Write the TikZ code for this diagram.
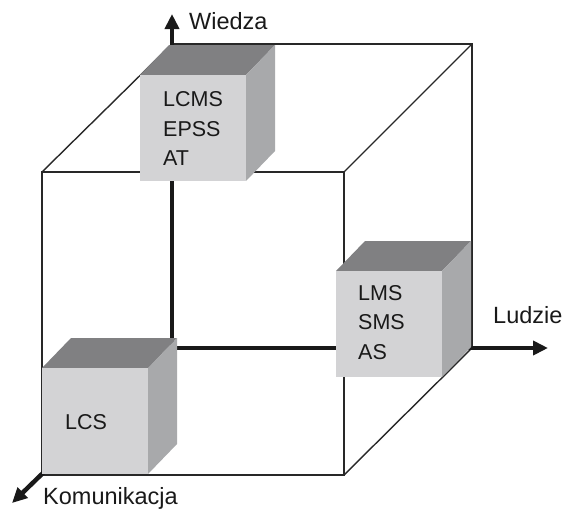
\documentclass[tikz,border=0pt]{standalone}
\usepackage{fontspec}
\setmainfont{Liberation Sans}
\usetikzlibrary{arrows.meta}
\definecolor{edgecol}{RGB}{40,40,40}
\definecolor{axiscol}{RGB}{25,25,25}
\definecolor{facefront}{RGB}{211,211,213}
\definecolor{facetop}{RGB}{128,128,130}
\definecolor{faceside}{RGB}{168,169,171}
\tikzset{
  edge/.style={draw=edgecol, line width=1.4pt},
  axis/.style={draw=axiscol, line width=4.5pt, -{Triangle[length=15pt,width=14pt]}},
  axislabel/.style={anchor=base west, font=\fontsize{23.5}{27}\selectfont, text=black!90, inner sep=0pt},
  cubetext/.style={anchor=base west, font=\fontsize{21.5}{25}\selectfont, text=black!90, inner sep=0pt},
  pics/solidcube/.style={code={
    \fill[facetop] (0,0) -- (29,-30) -- (135,-30) -- (106,0) -- cycle;
    \fill[faceside] (106,0) -- (135,-30) -- (135,76) -- (106,106) -- cycle;
    \fill[facefront] (0,0) rectangle (106,106);
  }}
}
\begin{document}
\begin{tikzpicture}[x=1pt, y=-1pt]
  \useasboundingbox (0,0) rectangle (565,509);

  % corners of the large frame cube
  \coordinate (o)  at (172,348);
  \coordinate (bt) at (172,44);
  \coordinate (btr) at (472,44);
  \coordinate (bbr) at (472,348);
  \coordinate (ftl) at (42,172);
  \coordinate (ftr) at (344,172);
  \coordinate (fbl) at (42,475);
  \coordinate (fbr) at (344,475);
  % arrow ends of the axes
  \coordinate (wtip) at (172,14);
  \coordinate (ltip) at (548,348);
  \coordinate (ktip) at (12,503);

  % frame edges
  \draw[edge] (bt) -- (btr) -- (bbr);
  \draw[edge] (bt) -- (ftl);
  \draw[edge] (btr) -- (ftr);
  \draw[edge] (bbr) -- (fbr);
  \draw[edge] (ftl) rectangle (fbr);

  % axes
  \draw[axis] (o) -- (wtip);
  \draw[axis] (o) -- (ltip);
  \draw[axis] (o) -- (ktip);

  % axis labels
  \node[axislabel] (wiedza) at (189,29) {Wiedza};
  \node[axislabel] (ludzie) at (493,323) {Ludzie};
  \node[axislabel] (komunikacja) at (43,504) {Komunikacja};

  % solid cubes
  \pic at (140,75) {solidcube};
  \node[cubetext] (lcms) at (163,106) {LCMS};
  \node[cubetext] (epss) at (163,136) {EPSS};
  \node[cubetext] (at)   at (163,165) {AT};

  \pic at (336,271) {solidcube};
  \node[cubetext] (lms) at (358,300) {LMS};
  \node[cubetext] (sms) at (358,329) {SMS};
  \node[cubetext] (as)  at (358,359) {AS};

  \pic at (42,368) {solidcube};
  \node[cubetext] (lcs) at (65,429) {LCS};
\end{tikzpicture}
\end{document}
